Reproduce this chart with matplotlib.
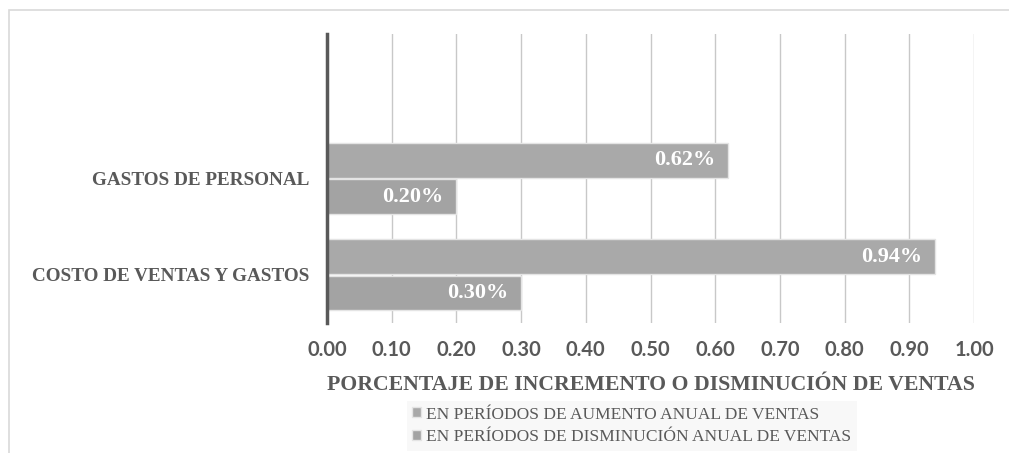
import matplotlib.pyplot as plt
from matplotlib.patches import Rectangle

CATEGORIES = ["COSTO DE VENTAS Y GASTOS", "GASTOS DE PERSONAL", ""]
AUMENTO = [0.94, 0.62]
DISMINUCION = [0.30, 0.20]
SERIES = ["EN PERÍODOS DE AUMENTO ANUAL DE VENTAS",
          "EN PERÍODOS DE DISMINUCIÓN ANUAL DE VENTAS"]
X_TICKS = [0.0, 0.1, 0.2, 0.3, 0.4, 0.5, 0.6, 0.7, 0.8, 0.9, 1.0]

TEXT_GRAY = "#595959"
COLOR_AUM = "#a9a9a9"
COLOR_DIS = "#a3a3a3"

fig = plt.figure(figsize=(10.09, 4.53), dpi=100)
ax = fig.add_axes([327 / 1009, 1 - 323 / 453, (974 - 327) / 1009, (323 - 34) / 453])

# outer chart frame
fig.patches.append(Rectangle((9 / 1009, -0.1), 1.2, 1 - 10 / 453 + 0.1,
                             transform=fig.transFigure, fill=False,
                             edgecolor="#d9d9d9", linewidth=1.2))

h = 0.36
off = 0.187
ypos = list(range(len(AUMENTO)))
b1 = ax.barh([y + off for y in ypos], AUMENTO, height=h, color=COLOR_AUM,
             edgecolor="#e4e4e4", linewidth=1, label=SERIES[0], zorder=3)
b2 = ax.barh([y - off for y in ypos], DISMINUCION, height=h, color=COLOR_DIS,
             edgecolor="#e4e4e4", linewidth=1, label=SERIES[1], zorder=3)

for bars in (b1, b2):
    for rect in bars:
        w = rect.get_width()
        ax.annotate(f"{w:.2f}%", (w, rect.get_y() + rect.get_height() / 2),
                    xytext=(-9.5, 0), textcoords="offset points",
                    ha="right", va="center", color="white",
                    fontfamily="Liberation Serif", fontweight="bold",
                    fontsize=16, zorder=4)

ax.set_xlim(0, 1.0)
ax.set_ylim(-0.5, 2.5)
ax.set_xticks(X_TICKS)
ax.set_xticklabels([f"{t:.2f}" for t in X_TICKS], fontfamily="Lato",
                   fontweight="bold", fontsize=14.5, color=TEXT_GRAY)
ax.set_yticks(range(len(CATEGORIES)))
ax.set_yticklabels(CATEGORIES, fontfamily="Liberation Serif",
                   fontweight="bold", fontsize=13.8, color=TEXT_GRAY)
ax.tick_params(axis="both", length=0)
ax.tick_params(axis="x", pad=12)
ax.tick_params(axis="y", pad=13)

ax.grid(axis="x", color="#c8c8c8", linewidth=1, zorder=0)
for s in ("top", "right", "bottom"):
    ax.spines[s].set_visible(False)
ax.spines["left"].set_color(TEXT_GRAY)
ax.spines["left"].set_linewidth(2.5)
ax.spines["left"].set_zorder(5)

ax.set_xlabel("PORCENTAJE DE INCREMENTO O DISMINUCIÓN DE VENTAS",
              fontfamily="Liberation Serif", fontweight="bold",
              fontsize=15.7, color=TEXT_GRAY, labelpad=11)

leg = fig.legend(handles=[b1, b2], labels=SERIES, loc="center",
                 bbox_to_anchor=(632 / 1009, 1 - 426 / 453), ncol=1,
                 frameon=True, facecolor="#f7f7f7", edgecolor="none",
                 fancybox=False, handlelength=0.5, handleheight=0.5,
                 handletextpad=0.3, labelspacing=0.4, borderpad=0.3,
                 prop={"family": "Liberation Serif", "size": 12.5})
for t in leg.get_texts():
    t.set_color(TEXT_GRAY)

fig.savefig("out.png", dpi=100)
